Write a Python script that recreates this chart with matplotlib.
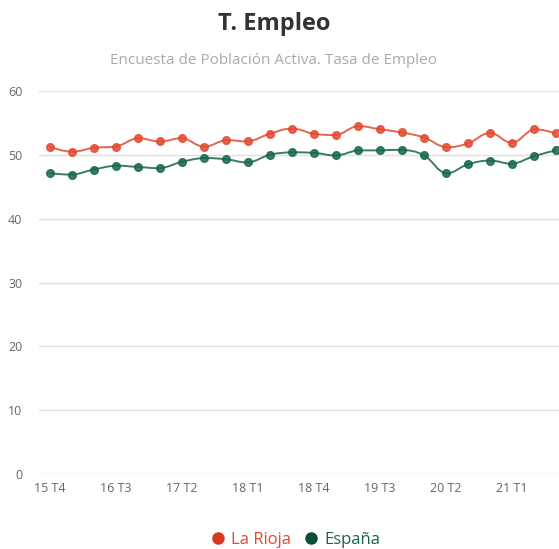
import numpy as np
import matplotlib
matplotlib.use('Agg')
import matplotlib.pyplot as plt
from matplotlib.path import Path
from matplotlib.patches import PathPatch
from matplotlib.lines import Line2D

plt.rcParams['font.family'] = ['Open Sans', 'DejaVu Sans']

quarters = ['15 T4',
            '16 T1', '16 T2', '16 T3', '16 T4',
            '17 T1', '17 T2', '17 T3', '17 T4',
            '18 T1', '18 T2', '18 T3', '18 T4',
            '19 T1', '19 T2', '19 T3', '19 T4',
            '20 T1', '20 T2', '20 T3', '20 T4',
            '21 T1', '21 T2', '21 T3']
la_rioja = [51.2, 50.5, 51.1, 51.3, 52.6, 52.1, 52.6, 51.3, 52.3, 52.1, 53.3, 54.1,
            53.3, 53.1, 54.5, 54.0, 53.5, 52.7, 51.2, 51.8, 53.4, 51.9, 54.0, 53.4]
espana = [47.1, 46.9, 47.7, 48.3, 48.1, 47.9, 48.9, 49.5, 49.3, 48.8, 50.0, 50.4,
          50.3, 49.9, 50.7, 50.7, 50.8, 49.9, 47.1, 48.5, 49.1, 48.6, 49.8, 50.7]

red = '#e2492f'
green = '#17664c'


def smooth_path(xs, ys, k=0.22):
    # bezier curve through the points, control points kept between neighbours
    xs = np.asarray(xs, float)
    ys = np.asarray(ys, float)
    n = len(xs)
    verts = [(xs[0], ys[0])]
    codes = [Path.MOVETO]
    for i in range(n - 1):
        p0 = max(i - 1, 0)
        p3 = min(i + 2, n - 1)
        c1x = xs[i] + (xs[i + 1] - xs[p0]) * k
        c1y = ys[i] + (ys[i + 1] - ys[p0]) * k
        c2x = xs[i + 1] - (xs[p3] - xs[i]) * k
        c2y = ys[i + 1] - (ys[p3] - ys[i]) * k
        lo, hi = min(ys[i], ys[i + 1]), max(ys[i], ys[i + 1])
        c1y = min(max(c1y, lo), hi)
        c2y = min(max(c2y, lo), hi)
        verts += [(c1x, c1y), (c2x, c2y), (xs[i + 1], ys[i + 1])]
        codes += [Path.CURVE4, Path.CURVE4, Path.CURVE4]
    return Path(verts, codes)


W, H = 559, 549
fig = plt.figure(figsize=(W / 100, H / 100), dpi=100)
left, right = 39, 39 + 22 * 25
bottom, top = 474, 91
ax = fig.add_axes([left / W, 1 - bottom / H, (right - left) / W, (bottom - top) / H])

x = np.arange(len(quarters))
for vals, col in [(la_rioja, red), (espana, green)]:
    ax.add_patch(PathPatch(smooth_path(x, vals), facecolor='none', edgecolor=col,
                           lw=1.4, alpha=0.85, zorder=3, clip_on=False))
    ax.plot(x, vals, ls='none', marker='o', ms=5.5, color=col, alpha=0.85, zorder=4,
            clip_on=False)

ax.set_xlim(-0.5, 24.5)
ax.set_ylim(0, 60)
ax.set_yticks(range(0, 61, 10))
ax.set_xticks(x[::3])
ax.set_xticklabels(quarters[::3])
ax.grid(axis='y', color='#e0e0e0', lw=1)
ax.set_axisbelow(True)
for s in ax.spines.values():
    s.set_visible(False)
ax.tick_params(length=0, labelsize=9, labelcolor='#666666')
ax.tick_params(axis='y', pad=12)
ax.tick_params(axis='x', pad=6)

fig.text(274 / W, 1 - 24 / H, 'T. Empleo', ha='center', va='center',
         fontsize=17, fontweight='bold', color='#333333')
fig.text(273 / W, 1 - 60 / H, 'Encuesta de Población Activa. Tasa de Empleo',
         ha='center', va='center', fontsize=11, color='#aaaaaa')

handles = [Line2D([], [], ls='none', marker='o', ms=8, color='#d63a1e'),
           Line2D([], [], ls='none', marker='o', ms=8, color='#0b4d3b')]
leg = fig.legend(handles, ['La Rioja', 'España'], loc='center',
                 bbox_to_anchor=(294 / W, 1 - 540 / H), ncol=2, frameon=False,
                 fontsize=12, handletextpad=0.2, columnspacing=0.6, handlelength=1.2)
for t, c in zip(leg.get_texts(), [red, green]):
    t.set_color(c)

fig.savefig('out.png', dpi=100)
